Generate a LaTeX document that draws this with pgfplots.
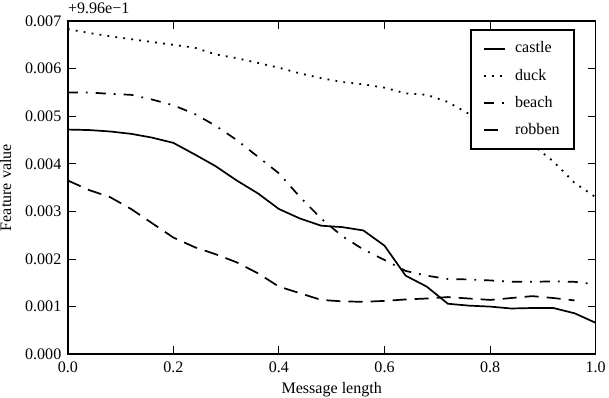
\documentclass[border=0pt]{standalone}
\usepackage{fontspec}
\setmainfont{Liberation Serif}
\usepackage{pgfplots}
\pgfplotsset{compat=1.18}
% values in units of 1e-3, offset +0.996
\pgfplotstableread{
x castle duck beach
0.00 4.72 6.83 5.50
0.04 4.71 6.75 5.50
0.08 4.68 6.68 5.47
0.12 4.63 6.62 5.45
0.16 4.55 6.56 5.35
0.20 4.44 6.50 5.23
0.24 4.20 6.44 5.05
0.28 3.95 6.30 4.80
0.32 3.65 6.22 4.50
0.36 3.38 6.12 4.15
0.40 3.05 6.02 3.80
0.44 2.85 5.90 3.30
0.48 2.70 5.80 2.85
0.52 2.67 5.72 2.48
0.56 2.60 5.67 2.20
0.60 2.28 5.60 1.98
0.64 1.65 5.48 1.75
0.68 1.42 5.45 1.65
0.72 1.06 5.30 1.58
0.76 1.02 5.05 1.57
0.80 1.00 4.90 1.55
0.84 0.96 4.70 1.52
0.88 0.97 4.40 1.52
0.92 0.97 4.05 1.53
0.96 0.86 3.60 1.52
1.00 0.66 3.30 1.47
}\maindata
\pgfplotstableread{
x robben
0.00 3.65
0.04 3.45
0.08 3.30
0.12 3.05
0.16 2.75
0.20 2.45
0.24 2.25
0.28 2.10
0.32 1.93
0.36 1.70
0.40 1.42
0.44 1.28
0.48 1.14
0.52 1.11
0.56 1.10
0.60 1.12
0.64 1.15
0.68 1.17
0.72 1.20
0.76 1.17
0.80 1.14
0.84 1.18
0.88 1.22
0.92 1.18
0.96 1.13
}\robdata
\begin{document}
\begin{tikzpicture}
\begin{axis}[
  scale only axis, width=526pt, height=332pt,
  xmin=0, xmax=1, ymin=0, ymax=7,
  xtick={0,0.2,0.4,0.6,0.8,1.0},
  xticklabels={0.0,0.2,0.4,0.6,0.8,1.0},
  ytick={0,1,2,3,4,5,6,7},
  yticklabels={0.000,0.001,0.002,0.003,0.004,0.005,0.006,0.007},
  xticklabel style={yshift=-4pt},
  yticklabel style={xshift=-3pt},
  tick align=inside, major tick length=8pt,
  tick style={line width=1pt, black},
  axis line style={line width=1.6pt},
  font=\fontsize{16}{19}\selectfont,
  xlabel={Message length}, ylabel={Feature value},
  xlabel style={at={(rel axis cs:0.5,0)}, anchor=north, yshift=-28pt, inner sep=0pt},
  ylabel style={at={([xshift=-62pt]rel axis cs:0,0.5)}, anchor=center, inner sep=0pt},
  legend style={at={(0.96,0.976)}, anchor=north east, draw=black, line width=1.6pt,
    inner xsep=12pt, inner ysep=10pt, row sep=9pt,
    nodes={inner sep=2pt, text height=11pt, text depth=3pt},
    /tikz/every odd column/.append style={column sep=7pt},
    font=\fontsize{16}{19}\selectfont},
  legend cell align=left,
  legend image code/.code={\draw[#1] (0pt,0pt) -- (21pt,0pt);},
  clip=false,
]
\addplot[black, line width=1.7pt] table[x=x,y=castle]{\maindata};
\addlegendentry{castle}
\addplot[black, line width=1.8pt, dash pattern=on 1.8pt off 6.2pt] table[x=x,y=duck]{\maindata};
\addlegendentry{duck}
\addplot[black, line width=1.7pt, dash pattern=on 10pt off 8pt on 1.8pt off 8pt] table[x=x,y=beach]{\maindata};
\addlegendentry{beach}
\addplot[black, line width=1.7pt, dash pattern=on 14pt off 8pt] table[x=x,y=robben]{\robdata};
\addlegendentry{robben}
\node[anchor=base west, inner sep=0pt, font=\fontsize{16}{19}\selectfont] at ([yshift=8pt]rel axis cs:0,1) {+9.96e−1};
\path ([yshift=21pt]rel axis cs:0,1);
\end{axis}
\end{tikzpicture}
\end{document}
